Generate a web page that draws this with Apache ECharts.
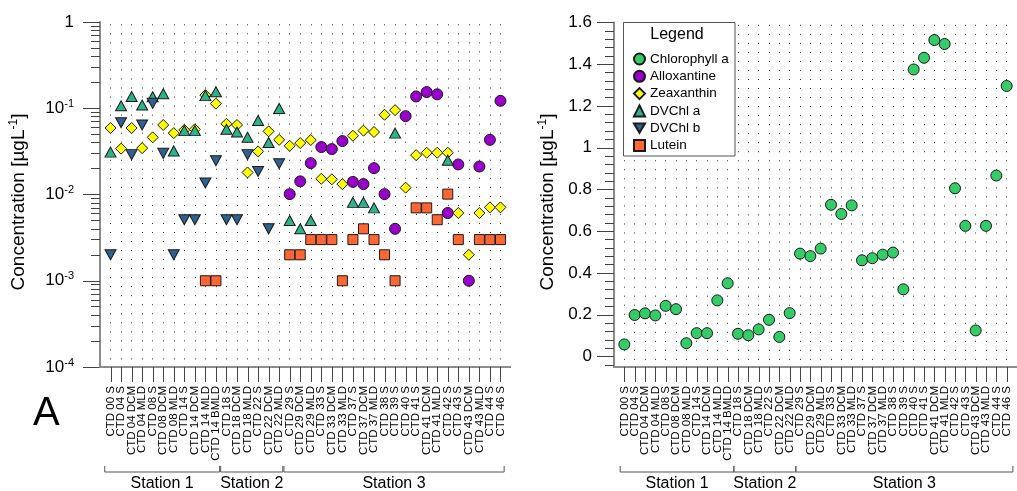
<!DOCTYPE html>
<html>
<head>
<meta charset="utf-8">
<script src="https://cdn.jsdelivr.net/npm/echarts@6/dist/echarts.min.js"></script>
<style>
  html, body { margin: 0; padding: 0; background: #fff; }
  #chart { width: 1017px; height: 491px; }
</style>
</head>
<body>
<div id="chart"></div>
<script>
// sample names along the cruise, in plot order
const categories = [
  'CTD 00 S', 'CTD 04 S', 'CTD 04 DCM', 'CTD 04 MLD', 'CTD 08 S', 'CTD 08 DCM', 'CTD 08 MLD',
  'CTD 14 S', 'CTD 14 DCM', 'CTD 14 MLD', 'CTD 14 BMLD',
  'CTD 18 S', 'CTD 18 DCM', 'CTD 18 MLD', 'CTD 22 S', 'CTD 22 DCM', 'CTD 22 MLD',
  'CTD 29 S', 'CTD 29 DCM', 'CTD 29 MLD', 'CTD 33 S', 'CTD 33 DCM', 'CTD 33 MLD',
  'CTD 37 S', 'CTD 37 DCM', 'CTD 37 MLD', 'CTD 38 S', 'CTD 39 S', 'CTD 40 S',
  'CTD 41 S', 'CTD 41 DCM', 'CTD 41 MLD', 'CTD 42 S', 'CTD 43 S', 'CTD 43 DCM',
  'CTD 43 MLD', 'CTD 44 S', 'CTD 46 S'
];
const stations = [
  { name: 'Station 1', from: 0, to: 10 },
  { name: 'Station 2', from: 11, to: 16 },
  { name: 'Station 3', from: 17, to: 37 }
];

// concentrations in µg/L, null = not detected
const chlorophyllA = [0.058, 0.199, 0.207, 0.197, 0.243, 0.227, 0.064, 0.112, 0.112, 0.269, 0.351,
  0.109, 0.102, 0.130, 0.176, 0.094, 0.208,
  0.493, 0.481, 0.517, 0.727, 0.683, 0.724, 0.461, 0.471, 0.488, 0.498, 0.322, 1.375,
  1.431, 1.516, 1.497, 0.806, 0.626, 0.125, 0.626, 0.867, 1.296];
const alloxantine = [null, null, null, null, null, null, null, null, null, null, null,
  null, null, null, null, null, null,
  0.0101, 0.0142, 0.0231, 0.0355, 0.0336, 0.0416, 0.014, 0.0132, 0.0202, 0.0101, 0.004, 0.081,
  0.137, 0.154, 0.145, 0.0061, 0.0223, 0.001, 0.0211, 0.043, 0.122];
const zeaxanthin = [0.059, 0.034, 0.059, 0.0345, 0.046, 0.064, 0.0515, 0.056, 0.057, 0.142, 0.113,
  0.066, 0.064, 0.018, 0.0316, 0.054, 0.043,
  0.0367, 0.0395, 0.0428, 0.0152, 0.015, 0.0132, 0.048, 0.055, 0.053, 0.084, 0.095, 0.012,
  0.0286, 0.0305, 0.0305, 0.0305, 0.0061, 0.002, 0.0061, 0.0071, 0.0071];
const dvchlA = [0.031, 0.107, 0.137, 0.109, 0.136, 0.147, 0.032, 0.055, 0.055, 0.14, 0.155,
  0.057, 0.053, 0.046, 0.072, 0.040, 0.0995,
  0.005, 0.004, 0.005, null, null, null, 0.0081, 0.0081, 0.007, null, 0.0515, null,
  null, null, null, 0.025, null, null, null, null, null];
const dvchlB = [0.002, 0.068, 0.029, 0.064, 0.114, 0.030, 0.002, 0.0051, 0.0051, 0.0136, 0.0246,
  0.0051, 0.0051, 0.029, 0.0185, 0.004, 0.0227,
  null, null, null, null, null, null, null, null, null, null, null, null,
  null, null, null, null, null, null, null, null, null];
const lutein = [null, null, null, null, null, null, null, null, null, 0.001, 0.001,
  null, null, null, null, null, null,
  0.002, 0.002, 0.003, 0.003, 0.003, 0.001, 0.003, 0.004, 0.003, 0.002, 0.001, null,
  0.007, 0.007, 0.0051, 0.0101, 0.003, null, 0.003, 0.003, 0.003];

// tick positions
const logMinorTicks = [];
for (let d = -4; d < 0; d++) for (let k = 2; k <= 9; k++) logMinorTicks.push(Math.log10(k) + d);
const linMajorTicks = [0, 0.2, 0.4, 0.6, 0.8, 1, 1.2, 1.4, 1.6];
const linMinorTicks = [-0.04, 0.04, 0.08, 0.12, 0.16, 0.24, 0.28, 0.32, 0.36, 0.44, 0.48, 0.52, 0.56,
  0.64, 0.68, 0.72, 0.76, 0.84, 0.88, 0.92, 0.96, 1.04, 1.08, 1.12, 1.16, 1.24, 1.28, 1.32, 1.36,
  1.44, 1.48, 1.52, 1.56];
const categoryTicks = categories.map((c, i) => i);
// blank end slots keep the first and last sample names from being dropped
const labelSlots = [-1].concat(categoryTicks, [categories.length]);

const FONT = '"Liberation Sans", Arial, sans-serif';
const axisGrey = '#8c8c8c';
const tickGrey = '#444';
const downTriangle = 'path://M0,0L20,0L10,17Z';

const toPairs = (arr) => arr.map((v, i) => (v == null ? null : [i, v])).filter(Boolean);

function xAxisFor(gridIndex) {
  return {
    type: 'value', gridIndex, position: 'bottom', min: -1, max: categories.length, interval: 1,
    axisLine: { show: false, onZero: false },
    axisTick: { show: false },
    axisLabel: {
      show: true, customValues: labelSlots, rotate: 90, margin: 19, hideOverlap: false,
      fontFamily: FONT, fontSize: 11.5, lineHeight: 10, color: '#000',
      formatter: (v) => categories[Math.round(v)] || ''
    },
    splitLine: {
      show: true, showMinLine: false, showMaxLine: false,
      lineStyle: { color: '#333', width: 1, type: [0, 2.3, 1, 5.73] }
    }
  };
}

function yAxisFor(gridIndex, extra) {
  return Object.assign({
    type: 'value', gridIndex, position: 'left', offset: 0,
    axisLine: { show: false, onZero: false },
    axisLabel: { show: false },
    splitLine: { show: false }
  }, extra);
}

const marker = (name, symbol, color, size, x, y, data) => ({
  name, type: 'scatter', xAxisIndex: x, yAxisIndex: y, symbol, symbolSize: size,
  itemStyle: { color, borderColor: '#1a1a1a', borderWidth: 1, opacity: 1 },
  data: toPairs(data), z: 3
});

const chart = echarts.init(document.getElementById('chart'));
const supRich = {
  b: { fontFamily: FONT, fontSize: 17, color: '#000', lineHeight: 20 },
  s: { fontFamily: FONT, fontSize: 11, color: '#000', lineHeight: 12, verticalAlign: 'top' }
};

const option = {
  animation: false,
  backgroundColor: '#fff',
  grid: [
    { left: 100, top: 22, width: 411, height: 345 },
    { left: 614, top: 22.5, width: 410.5, height: 344.5 }
  ],
  xAxis: [xAxisFor(0), xAxisFor(1)],
  yAxis: [
    yAxisFor(0, {
      type: 'log', min: 0.0001, max: 1, logBase: 10,
      axisLine: { show: true, onZero: false, lineStyle: { color: axisGrey, width: 2 } },
      axisTick: { show: true, length: 17, lineStyle: { color: tickGrey } },
      axisLabel: {
        margin: 26,
        formatter: (v) => {
          const e = Math.round(Math.log10(v));
          return e === 0 ? '{b|1}' : '{b|10}{s|' + e + '}';
        },
        rich: supRich
      }
    }),
    yAxisFor(0, {
      min: -4, max: 0,
      axisTick: { show: true, customValues: logMinorTicks, length: 9, lineStyle: { color: tickGrey } }
    }),
    yAxisFor(1, {
      min: -0.05, max: 1.6,
      axisLine: { show: true, onZero: false, lineStyle: { color: axisGrey, width: 2 } },
      axisTick: { show: true, customValues: linMajorTicks, length: 17, lineStyle: { color: tickGrey } },
      axisLabel: { customValues: linMajorTicks, margin: 22, fontFamily: FONT, fontSize: 17, color: '#000' }
    }),
    yAxisFor(1, {
      min: -0.05, max: 1.6,
      axisTick: { show: true, customValues: linMinorTicks, length: 9, lineStyle: { color: tickGrey } }
    })
  ],
  legend: {
    orient: 'vertical', left: 633, top: 51, padding: 0,
    itemWidth: 11, itemHeight: 11, itemGap: 1.3, selectedMode: false,
    textStyle: { fontFamily: FONT, fontSize: 13.5, lineHeight: 16, color: '#000' },
    data: ['Chlorophyll a', 'Alloxantine', 'Zeaxanthin', 'DVChl a', 'DVChl b', 'Lutein'],
    z: 10
  },
  series: [
    marker('Chlorophyll a', 'circle', '#33cc66', 11, 1, 2, chlorophyllA),
    marker('Alloxantine', 'circle', '#9900cc', 11, 0, 0, alloxantine),
    marker('Zeaxanthin', 'diamond', '#ffff00', 11, 0, 0, zeaxanthin),
    marker('DVChl a', 'triangle', '#2db38a', [11, 10], 0, 0, dvchlA),
    marker('DVChl b', downTriangle, '#2e6090', [11, 10], 0, 0, dvchlB),
    marker('Lutein', 'rect', '#ff6633', 10, 0, 0, lutein)
  ]
};
chart.setOption(option);

const titleRich = {
  a: { fontFamily: FONT, fontSize: 19, color: '#000', lineHeight: 22 },
  s: { fontFamily: FONT, fontSize: 12, color: '#000', lineHeight: 12, verticalAlign: 'top' }
};
const axisTitle = (x, y) => ({
  type: 'text', x, y, rotation: Math.PI / 2,
  style: { text: '{a|Concentration [µgL}{s|-1}{a|]}', rich: titleRich, align: 'center', verticalAlign: 'middle' }
});

// bottom axis line, sample ticks and station brackets, placed through the axis scale
function bottomAxis(xAxisIndex, gridLeft, gridRight, startPad, endPad) {
  const px = (i) => chart.convertToPixel({ xAxisIndex }, i);
  const axisY = 367;
  const out = [{
    type: 'line', silent: true, z: 4,
    shape: { x1: gridLeft, y1: axisY, x2: gridRight, y2: axisY },
    style: { stroke: axisGrey, lineWidth: 2 }
  }];
  categoryTicks.forEach((i) => {
    const x = Math.round(px(i)) + 0.5;
    out.push({
      type: 'line', silent: true, z: 4,
      shape: { x1: x, y1: axisY, x2: x, y2: axisY + 15 },
      style: { stroke: tickGrey, lineWidth: 1 }
    });
  });
  stations.forEach((s) => {
    const x1 = px(s.from + startPad), x2 = px(s.to + endPad);
    out.push({
      type: 'polyline', silent: true,
      shape: { points: [[x1, 466], [x1, 472], [x2, 472], [x2, 466]] },
      style: { stroke: '#555', lineWidth: 1, fill: null }
    });
    out.push({
      type: 'text', x: (x1 + x2) / 2, y: 484,
      style: { text: s.name, fontFamily: FONT, fontSize: 16, fill: '#000', align: 'center', verticalAlign: 'middle' }
    });
  });
  return out;
}

chart.setOption({
  graphic: [
    axisTitle(19, 202),
    axisTitle(548, 202),
    { type: 'text', x: 33, y: 414, style: { text: 'A', fontFamily: FONT, fontSize: 40, fill: '#000', verticalAlign: 'middle' } },
    { type: 'rect', shape: { x: 623.5, y: 22.5, width: 111.5, height: 133.5 }, style: { fill: '#fff', stroke: '#555', lineWidth: 1 }, z: 5 },
    { type: 'text', x: 677, y: 35, z: 6, style: { text: 'Legend', fontFamily: FONT, fontSize: 16, fill: '#000', align: 'center', verticalAlign: 'middle' } }
  ].concat(bottomAxis(0, 99, 511, -0.55, 0.35), bottomAxis(1, 613, 1017, -0.4, 0.6))
});
</script>
</body>
</html>
